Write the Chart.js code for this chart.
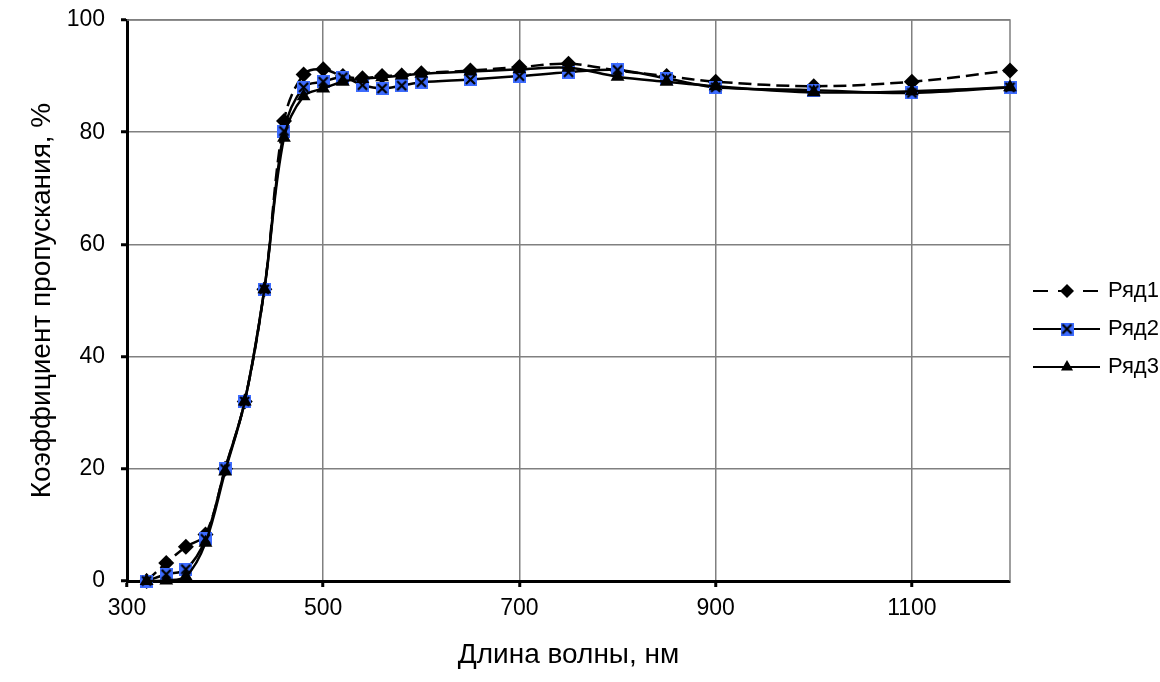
<!DOCTYPE html>
<html>
<head>
<meta charset="utf-8">
<script src="https://cdn.jsdelivr.net/npm/chart.js@4/dist/chart.umd.min.js"></script>
<style>
  html, body { margin: 0; padding: 0; background: #fff; }
  #wrap { width: 1160px; height: 682px; }
</style>
</head>
<body>
<div id="wrap"><canvas id="grafico"></canvas></div>
<script>
// longitudes de onda (nm)
const longitudes = [320, 340, 360, 380, 400, 420, 440, 460, 480, 500, 520, 540, 560, 580, 600, 650, 700, 750, 800, 850, 900, 1000, 1100, 1200];
// coeficiente de transmisión, %
const serie1 = [0, 3.2, 6.1, 8.3, 20, 32, 52, 82, 90.3, 91.2, 90, 89.6, 90, 90.1, 90.5, 91, 91.6, 92.2, 91, 90, 89, 88.2, 89, 91];
const serie2 = [0, 1.2, 2.1, 7.5, 20, 32, 52, 80.2, 88, 89, 89.8, 88.4, 87.8, 88.3, 88.9, 89.4, 90, 90.7, 91.1, 89.6, 88, 87.5, 87, 88];
const serie3 = [0, 0.1, 0.8, 6.8, 19.5, 32, 52, 79, 86.4, 87.8, 89, 89.5, 89.8, 90.1, 90.4, 90.8, 91.2, 91.5, 89.9, 89, 88.2, 87.1, 87.3, 88];
const nombres = ['Ряд1', 'Ряд2', 'Ряд3'];
// marcas del eje x
const marcasX = [300, 500, 700, 900, 1100];
const tituloX = 'Длина волны, нм';
const tituloY = 'Коэффициент пропускания, %';

const fuente = 'Liberation Sans, Arial, sans-serif';

// marcador de la serie 2: cuadrado azul con una X negra
function cuadradoX() {
    const c = document.createElement('canvas');
    c.width = 13; c.height = 13;
    const g = c.getContext('2d');
    g.fillStyle = '#3d6cff';
    g.fillRect(0, 0, 13, 13);
    g.strokeStyle = '#000';
    g.lineWidth = 2.2;
    g.beginPath();
    g.moveTo(2, 2); g.lineTo(11, 11);
    g.moveTo(11, 2); g.lineTo(2, 11);
    g.stroke();
    return c;
}

function puntos(valores) {
    return longitudes.map((x, i) => ({ x: x, y: valores[i] }));
}

// marco gris arriba/derecha y leyenda a la derecha
const marcoYLeyenda = {
    id: 'marcoYLeyenda',
    beforeDatasetsDraw(chart) {
        const a = chart.chartArea, ctx = chart.ctx;
        ctx.save();
        ctx.strokeStyle = '#808080';
        ctx.lineWidth = 1.5;
        ctx.beginPath();
        ctx.moveTo(a.left, a.top);
        ctx.lineTo(a.right, a.top);
        ctx.lineTo(a.right, a.bottom);
        ctx.stroke();
        ctx.restore();
    },
    afterDraw(chart) {
        const ctx = chart.ctx;
        chart.data.datasets.forEach((ds, i) => {
            const y = 291 + i * 38;
            ctx.save();
            ctx.strokeStyle = '#000';
            ctx.lineWidth = 2;
            ctx.setLineDash(ds.borderDash && ds.borderDash.length ? [15, 10] : []);
            ctx.beginPath();
            ctx.moveTo(1033, y);
            ctx.lineTo(1100, y);
            ctx.stroke();
            ctx.setLineDash([]);
            ctx.fillStyle = '#000';
            Chart.helpers.drawPoint(ctx, { pointStyle: ds.pointStyle, radius: ds.pointRadius - 1, borderWidth: 0, rotation: 0 }, 1067, y);
            ctx.font = '22px ' + fuente;
            ctx.textBaseline = 'middle';
            ctx.textAlign = 'left';
            ctx.fillText(ds.label, 1108, y);
            ctx.restore();
        });
    }
};

const ctx = document.getElementById('grafico');

new Chart(ctx, {
    type: 'line',
    data: {
        datasets: [
            {
                label: nombres[0],
                data: puntos(serie1),
                borderColor: '#000',
                backgroundColor: '#000',
                borderWidth: 2.5,
                borderDash: [13, 6],
                pointStyle: 'rectRot',
                pointRadius: 8,
                pointBorderWidth: 0,
                tension: 0.35,
                clip: false,
                order: 2
            },
            {
                label: nombres[1],
                data: puntos(serie2),
                borderColor: '#000',
                backgroundColor: '#000',
                borderWidth: 2.5,
                pointStyle: cuadradoX(),
                pointRadius: 8,
                tension: 0.35,
                clip: false,
                order: 1
            },
            {
                label: nombres[2],
                data: puntos(serie3),
                borderColor: '#000',
                backgroundColor: '#000',
                borderWidth: 2.5,
                pointStyle: 'triangle',
                pointRadius: 8,
                pointBorderWidth: 0,
                tension: 0.35,
                clip: false,
                order: 0
            }
        ]
    },
    options: {
        responsive: true,
        maintainAspectRatio: false,
        animation: false,
        layout: { padding: { top: 20, right: 150, bottom: 10, left: 25 } },
        plugins: {
            legend: { display: false },
            tooltip: { enabled: false }
        },
        scales: {
            x: {
                type: 'linear',
                min: 300,
                max: 1200,
                afterFit: function (s) { s.height = 91; },
                afterBuildTicks: function (s) { s.ticks = marcasX.map(v => ({ value: v })); },
                ticks: {
                    color: '#000',
                    padding: 8,
                    maxRotation: 0,
                    autoSkip: false,
                    callback: v => String(v),
                    font: { family: fuente, size: 23 }
                },
                grid: { color: '#808080', lineWidth: 1.5, tickLength: 6, tickColor: '#000', tickWidth: 3 },
                border: { color: '#000', width: 3 },
                title: {
                    display: true,
                    text: tituloX,
                    color: '#000',
                    padding: 0,
                    font: { family: fuente, size: 28 }
                }
            },
            y: {
                min: 0,
                max: 100,
                afterFit: function (s) { s.width = 102; s.paddingTop = 0; s.paddingBottom = 0; },
                ticks: {
                    stepSize: 20,
                    color: '#000',
                    padding: 16,
                    font: { family: fuente, size: 23 }
                },
                grid: { color: '#808080', lineWidth: 1.5, tickLength: 6, tickColor: '#000', tickWidth: 3 },
                border: { color: '#000', width: 3 },
                title: {
                    display: true,
                    text: tituloY,
                    color: '#000',
                    padding: 0,
                    font: { family: fuente, size: 28 }
                }
            }
        }
    },
    plugins: [marcoYLeyenda]
});
</script>
</body>
</html>
